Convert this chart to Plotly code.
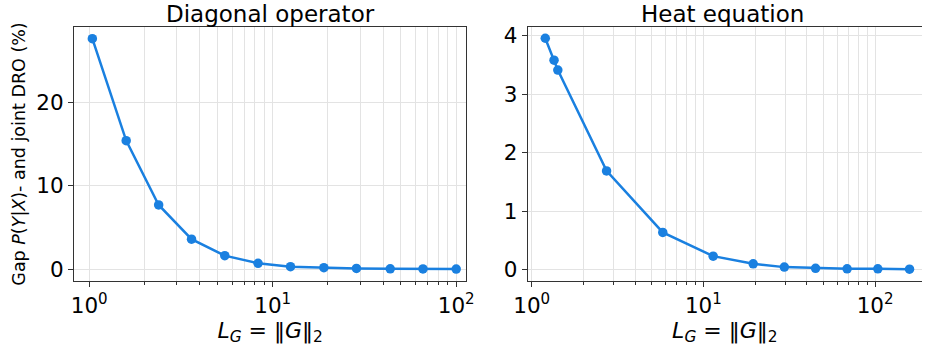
import plotly.graph_objects as go

# Diagonal operator
diag_L = [1.04, 1.59, 2.39, 3.61, 5.48, 8.32, 12.5, 19.0, 28.6, 43.7, 65.9, 100.0]
diag_gap = [27.6, 15.4, 7.7, 3.6, 1.63, 0.72, 0.31, 0.19, 0.10, 0.06, 0.04, 0.03]

# Heat equation
heat_L = [1.2, 1.35, 1.42, 2.73, 5.8, 11.4, 19.5, 29.6, 45.0, 68.7, 103.7, 158.6]
heat_gap = [3.955, 3.58, 3.41, 1.686, 0.634, 0.228, 0.096, 0.04, 0.02, 0.01, 0.01, 0.005]

titles = ["Diagonal operator", "Heat equation"]
x_tickvals = [1, 10, 100]
x_ticktext = ["10<sup>0</sup>", "10<sup>1</sup>", "10<sup>2</sup>"]

COLOR = "#1a80e0"
FONT = "DejaVu Sans"
W, H = 930, 350
L_M, R_M, T_M, B_M = 74, 0, 27, 69
pw = W - L_M - R_M

fig = go.Figure()
fig.add_trace(go.Scatter(x=diag_L, y=diag_gap, mode="lines+markers",
                         line=dict(color=COLOR, width=2.5),
                         marker=dict(color=COLOR, size=9.5),
                         xaxis="x", yaxis="y", showlegend=False))
fig.add_trace(go.Scatter(x=heat_L, y=heat_gap, mode="lines+markers",
                         line=dict(color=COLOR, width=2.5),
                         marker=dict(color=COLOR, size=9.5),
                         xaxis="x2", yaxis="y2", showlegend=False))

grid = "#e3e3e3"
axcol = "#333333"
xcommon = dict(type="log", tickvals=x_tickvals, ticktext=x_ticktext,
               showgrid=True, gridcolor=grid, gridwidth=1,
               ticks="outside", ticklen=5, tickcolor=axcol,
               showline=True, linecolor=axcol, linewidth=1,
               zeroline=False,
               minor=dict(showgrid=True, gridcolor=grid, ticks="outside",
                          ticklen=3, tickcolor=axcol,
                          tickvals=[m * d for d in (1, 10, 100) for m in range(2, 10)]),
               tickfont=dict(size=21.5, color="black", family=FONT),
               title=dict(text="<i>L</i><sub><i>G</i></sub> = ‖<i>G</i>‖<sub>2</sub>",
                          font=dict(size=22, color="black", family=FONT), standoff=4))
ycommon = dict(showgrid=True, gridcolor=grid, gridwidth=1,
               ticks="outside", ticklen=5, tickcolor=axcol,
               showline=True, linecolor=axcol, linewidth=1,
               zeroline=False,
               tickfont=dict(size=21.5, color="black", family=FONT))

d1 = (470 - L_M) / pw
d2 = (532 - L_M) / pw

fig.update_layout(
    width=W, height=H,
    margin=dict(l=L_M, r=R_M, t=T_M, b=B_M),
    paper_bgcolor="white", plot_bgcolor="white",
    font=dict(family=FONT, color="black"),
    xaxis=dict(xcommon, domain=[0, d1], range=[-0.083, 2.055], anchor="y", mirror=True),
    yaxis=dict(ycommon, domain=[0, 1], range=[-1.4, 29.0], anchor="x", mirror=True,
               tickvals=[0, 10, 20],
               title=dict(text="Gap <i>P</i>(<i>Y</i>|<i>X</i>)- and joint DRO (%)",
                          font=dict(size=17.5, color="black", family=FONT), standoff=6)),
    xaxis2=dict(xcommon, domain=[d2, 1], range=[-0.023, 2.273], anchor="y2", mirror=True),
    yaxis2=dict(ycommon, domain=[0, 1], range=[-0.1975, 4.1475], anchor="x2", mirror=False,
                tickvals=[0, 1, 2, 3, 4]),
    annotations=[
        dict(text=titles[0], x=(0 + d1) / 2, y=1, xref="paper", yref="paper",
             xanchor="center", yanchor="bottom", yshift=-2, showarrow=False,
             font=dict(size=23, color="black", family=FONT)),
        dict(text=titles[1], x=(d2 + 1) / 2 - 0.003, y=1, xref="paper", yref="paper",
             xanchor="center", yanchor="bottom", yshift=-2, showarrow=False,
             font=dict(size=23, color="black", family=FONT)),
    ],
)

fig.write_html("out.html")
